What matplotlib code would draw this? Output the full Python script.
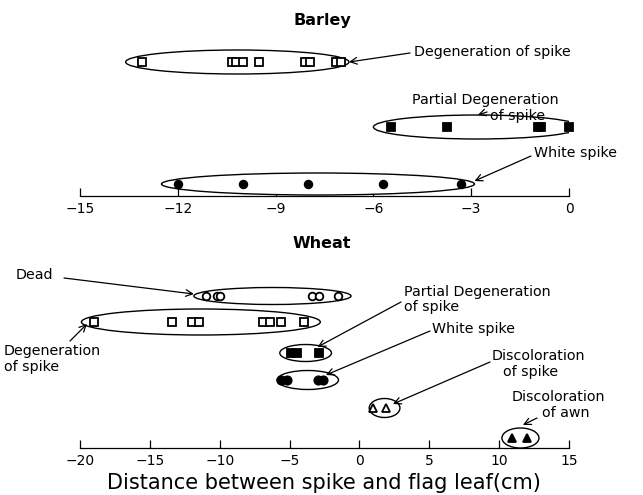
import matplotlib
matplotlib.use("Agg")
import matplotlib.pyplot as plt
from matplotlib.patches import Ellipse

plt.rcParams['font.family'] = ['DejaVu Sans']

W, H = 643, 495

# ---- Barley: distance between spike and flag leaf (cm) per symptom ----
barley_degeneration = [-13.1, -10.35, -10.2, -10.0, -9.5, -8.1, -7.95, -7.15, -7.0]
barley_partial = [-5.45, -3.75, -0.95, -0.85, 0.0]
barley_white = [-12.0, -10.0, -8.0, -5.7, -3.3]
barley_ticks = [-15, -12, -9, -6, -3, 0]
# group outlines (left, right) in cm
barley_degeneration_span = (-13.6, -6.75)
barley_partial_span = (-6.0, 0.35)
barley_white_span = (-12.5, -2.9)

# ---- Wheat ----
wheat_dead = [-10.95, -10.2, -10.0, -3.4, -2.9, -1.5]
wheat_degeneration = [-19.0, -13.4, -12.0, -11.5, -6.9, -6.4, -5.6, -4.0]
wheat_partial = [-4.9, -4.5, -2.9]
wheat_white = [-5.6, -5.2, -3.0, -2.6]
wheat_disc_spike = [1.0, 1.9]
wheat_disc_awn = [10.9, 12.0]
wheat_ticks = [-20, -15, -10, -5, 0, 5, 10, 15]
wheat_dead_span = (-11.85, -0.6)
wheat_degeneration_span = (-19.9, -2.8)
wheat_partial_span = (-5.7, -2.0)
wheat_white_span = (-5.9, -1.5)
wheat_disc_spike_span = (0.7, 2.9)
wheat_disc_awn_span = (10.2, 12.85)

fig = plt.figure(figsize=(W / 100, H / 100), dpi=100)
fig.patch.set_facecolor('white')

X0, X1 = 80, 569
NOTE_SIZE = 10.3


def make_axis(axis_y, top, xlim, ticks):
    ax = fig.add_axes([X0 / W, 1 - axis_y / H, (X1 - X0) / W, (axis_y - top) / H])
    ax.set_xlim(*xlim)
    ax.set_ylim(0, axis_y - top)
    for s in ('top', 'left', 'right'):
        ax.spines[s].set_visible(False)
    ax.spines['bottom'].set_linewidth(0.9)
    ax.set_xticks(ticks)
    ax.set_xticklabels([str(t).replace('-', '\u2212') for t in ticks])
    ax.tick_params(axis='x', direction='in', length=6, width=0.9, pad=4, labelsize=10)
    ax.set_yticks([])
    ax.patch.set_visible(False)
    return ax


def row(axis_y, y_pix):
    return axis_y - y_pix


def group(ax, xs, span, y, h, marker, filled, ms=5.5):
    ell = Ellipse(((span[0] + span[1]) / 2, y), span[1] - span[0], h,
                  facecolor='white', edgecolor='black', lw=1.0, zorder=3)
    ax.add_patch(ell)
    ax.plot(xs, [y] * len(xs), linestyle='none', marker=marker, ms=ms,
            mfc='black' if filled else 'white', mec='black', mew=1.3, zorder=4,
            clip_on=False)


def note(ax, start, tip_xy, lines):
    # lines: (x, y, text) in top-based figure pixels; arrow runs from start to tip
    for (tx, ty, s) in lines:
        fig.text(tx / W, 1 - ty / H, s, fontsize=NOTE_SIZE, ha='left', va='center')
    ax.annotate('', xy=tip_xy, xycoords='data',
                xytext=(start[0], H - start[1]), textcoords='figure pixels',
                arrowprops=dict(arrowstyle='->', lw=0.9, color='black',
                                shrinkA=0, shrinkB=0, mutation_scale=12))


# ---------------- Barley panel ----------------
BA = 196
axb = make_axis(BA, 35, (-15, 0), barley_ticks)
yb_deg = row(BA, 62)
yb_par = row(BA, 127)
yb_wht = row(BA, 184)
group(axb, barley_degeneration, barley_degeneration_span, yb_deg, 24, 's', False)
group(axb, barley_partial, barley_partial_span, yb_par, 24, 's', True)
group(axb, barley_white, barley_white_span, yb_wht, 22, 'o', True)

note(axb, (410, 53), (barley_degeneration_span[1], yb_deg),
     [(414, 52, 'Degeneration of spike')])
note(axb, (487, 112), (-2.8, yb_par + 12),
     [(412, 100, 'Partial Degeneration'), (490, 116, 'of spike')])
note(axb, (531, 156), (barley_white_span[1], yb_wht + 3),
     [(534, 153, 'White spike')])

fig.text(322 / W, 1 - 21 / H, 'Barley', fontsize=11.5, fontweight='bold',
         ha='center', va='center')

# ---------------- Wheat panel ----------------
WA = 448
axw = make_axis(WA, 280, (-20, 15), wheat_ticks)
yw_dead = row(WA, 296)
yw_deg = row(WA, 322)
yw_par = row(WA, 353)
yw_wht = row(WA, 380)
yw_dsp = row(WA, 408)
yw_awn = row(WA, 438)
group(axw, wheat_dead, wheat_dead_span, yw_dead, 17, 'o', False, ms=5.5)
group(axw, wheat_degeneration, wheat_degeneration_span, yw_deg, 26, 's', False, ms=5.5)
group(axw, wheat_partial, wheat_partial_span, yw_par, 17, 's', True, ms=5.5)
group(axw, wheat_white, wheat_white_span, yw_wht, 19, 'o', True, ms=6)
group(axw, wheat_disc_spike, wheat_disc_spike_span, yw_dsp, 19, '^', False, ms=5.5)
group(axw, wheat_disc_awn, wheat_disc_awn_span, yw_awn, 20, '^', True, ms=6)

note(axw, (64, 278), (wheat_dead_span[0], yw_dead + 2), [(16, 275, 'Dead')])
note(axw, (70, 341), (wheat_degeneration_span[0] + 0.4, yw_deg - 2),
     [(4, 351, 'Degeneration'), (4, 367, 'of spike')])
note(axw, (401, 302), (-3.0, yw_par + 6),
     [(404, 292, 'Partial Degeneration'), (404, 307, 'of spike')])
note(axw, (430, 331), (-2.4, yw_wht + 5),
     [(432, 329, 'White spike')])
note(axw, (490, 362), (2.4, yw_dsp + 4),
     [(492, 356, 'Discoloration'), (503, 372, 'of spike')])
note(axw, (537, 418), (11.7, yw_awn + 13),
     [(512, 397, 'Discoloration'), (542, 413, 'of awn')])

fig.text(322 / W, 1 - 243 / H, 'Wheat', fontsize=11.5, fontweight='bold',
         ha='center', va='center')
fig.text(324 / W, 1 - 483 / H, 'Distance between spike and flag leaf(cm)',
         fontsize=15, ha='center', va='center')

fig.savefig('out.png', dpi=100, facecolor='white')
